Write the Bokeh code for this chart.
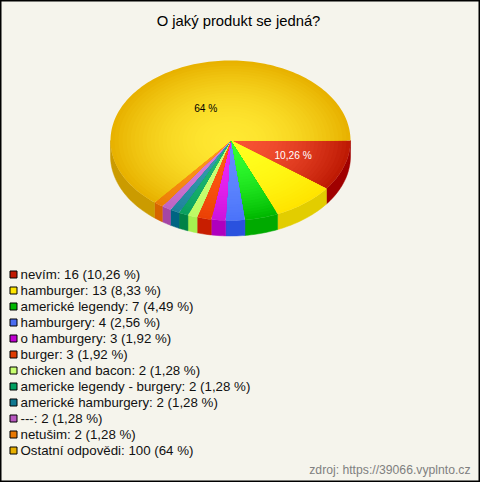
import math
from bokeh.plotting import figure
from bokeh.models import Range1d
from bokeh.core.properties import value
from bokeh.embed import file_html
from bokeh.resources import INLINE

title = "O jaký produkt se jedná?"
source_note = "zdroj: https://39066.vyplnto.cz"
categories = ["nevím", "hamburger", "americké legendy", "hamburgery", "o hamburgery", "burger",
              "chicken and bacon", "americke legendy - burgery", "americké hamburgery", "---",
              "netušim", "Ostatní odpovědi"]
counts = [16, 13, 7, 4, 3, 3, 2, 2, 2, 2, 2, 100]
percents = ["10,26", "8,33", "4,49", "2,56", "1,92", "1,92", "1,28", "1,28", "1,28", "1,28", "1,28", "64"]
swatch = ["#c01800", "#ffe600", "#00b800", "#4a6cf0", "#c000d0", "#e03c00",
          "#c8ff70", "#00a060", "#107890", "#b858c0", "#e87800", "#e8b000"]
inner = [(248, 84, 52), (255, 255, 30), (50, 255, 50), (100, 140, 255), (235, 40, 245), (255, 90, 20),
         (205, 255, 120), (30, 185, 115), (55, 155, 175), (215, 125, 220), (255, 150, 30), (255, 232, 50)]
outer = [(190, 26, 4), (255, 228, 0), (0, 185, 0), (75, 115, 250), (205, 20, 220), (235, 65, 5),
         (190, 250, 100), (10, 160, 95), (30, 130, 155), (190, 100, 195), (235, 125, 5), (232, 178, 0)]
side = [(160, 0, 0), (226, 205, 0), (0, 170, 0), (42, 82, 222), (175, 0, 190), (200, 30, 0),
        (165, 240, 80), (0, 130, 70), (0, 100, 130), (165, 70, 165), (215, 100, 0), (203, 155, 0)]
pie_labels = {0: ("10,26 %", "white"), 11: ("64 %", "black")}

CX, CY, RX, RY, DEPTH = 230, 140, 120, 80, 15.5
RINGS = 30
LABEL_FRAC = {0: (0.55, 0.6), 11: (0.48, 0.443)}

p = figure(width=480, height=482, output_backend="svg", toolbar_location=None,
           x_range=Range1d(0, 480), y_range=Range1d(482, 0), min_border=0,
           background_fill_color="#f5f4ec", border_fill_color="#f5f4ec",
           outline_line_color="black", outline_line_width=2)
p.axis.visible = False
p.grid.visible = False
p.styles = {"position": "absolute", "left": "0px", "top": "0px"}

def arc(a0, a1, frac=1.0, dy=0.0):
    n = max(2, int(abs(a1 - a0) / 1.5) + 2)
    pts = [a0 + (a1 - a0) * i / (n - 1) for i in range(n)]
    return ([CX + frac * RX * math.cos(math.radians(a)) for a in pts],
            [CY + dy + frac * RY * math.sin(math.radians(a)) for a in pts])

def hexc(c):
    return "#%02x%02x%02x" % tuple(int(round(v)) for v in c)

total = sum(counts)
start = [0.0]
for c in counts:
    start.append(start[-1] + 360 * c / total)

# side wall
xs, ys, cols = [], [], []
for i in range(len(counts)):
    a0, a1 = start[i], min(start[i + 1], 180)
    if a0 >= 180:
        continue
    ax, ay = arc(a0, a1)
    bx, by = arc(a1, a0, dy=DEPTH)
    xs.append(ax + bx); ys.append(ay + by); cols.append(hexc(side[i]))
p.patches(xs, ys, fill_color=cols, line_color=cols, line_width=0.5)

# top surface: concentric bands stand in for the radial gradient
xs, ys, cols = [], [], []
for i in range(len(counts)):
    for r in range(RINGS, 0, -1):
        f = r / RINGS
        t = f ** 1.9
        col = [inner[i][k] + (outer[i][k] - inner[i][k]) * t for k in range(3)]
        ax, ay = arc(start[i], start[i + 1], frac=f)
        xs.append([CX] + ax); ys.append([CY] + ay); cols.append(hexc(col))
p.patches(xs, ys, fill_color=cols, line_color=None)

font = value("Liberation Sans")
# pie labels
for i, (txt, col) in pie_labels.items():
    mid = math.radians((start[i] + start[i + 1]) / 2)
    fx, fy = LABEL_FRAC[i]
    p.text([CX + fx * RX * math.cos(mid)], [CY + fy * RY * math.sin(mid)], text=[txt],
           text_font=font, text_font_size="10.2px", text_color=col,
           text_align="center", text_baseline="middle")

p.text([238], [20], text=[title], text_font=font, text_font_size="14.8px", text_color="black",
       text_align="center", text_baseline="middle")

rows = [274 + 16 * i for i in range(len(categories))]
p.rect([13] * len(rows), rows, width=7, height=7, fill_color=swatch,
       line_color="black", line_width=1)
labels = [f"{c}: {n} ({q} %)" for c, n, q in zip(categories, counts, percents)]
p.text([20] * len(rows), rows, text=labels, text_font=font, text_font_size="13.3px",
       text_color="#111111", text_align="left", text_baseline="middle")
p.text([470], [469.5], text=[source_note], text_font=font, text_font_size="12.2px",
       text_color="#808080", text_align="right", text_baseline="middle")

open("out.html", "w").write(file_html(p, INLINE))
